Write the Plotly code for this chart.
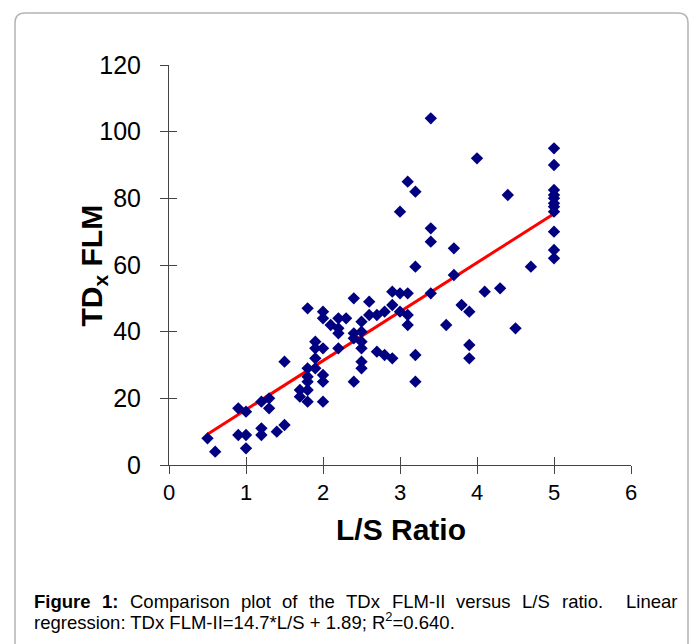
import plotly.graph_objects as go

# ---- data ----
ls_ratio = [0.5, 0.6, 0.9, 0.9, 1.0, 1.0, 1.0, 1.2, 1.2, 1.2, 1.3, 1.3, 1.4, 1.5, 1.5,
            1.7, 1.7, 1.8, 1.8, 1.8, 1.8, 1.8, 1.8, 1.9, 1.9, 1.9, 1.9,
            2.0, 2.0, 2.0, 2.0, 2.0, 2.0, 2.1, 2.2, 2.2, 2.2, 2.2, 2.3,
            2.4, 2.4, 2.4, 2.4, 2.5, 2.5, 2.5, 2.5, 2.5, 2.5, 2.6, 2.6, 2.7, 2.7,
            2.8, 2.8, 2.9, 2.9, 2.9, 3.0, 3.0, 3.0, 3.1, 3.1, 3.1, 3.1,
            3.2, 3.2, 3.2, 3.2, 3.4, 3.4, 3.4, 3.4, 3.6, 3.7, 3.7, 3.8,
            3.9, 3.9, 3.9, 4.0, 4.1, 4.3, 4.4, 4.5, 4.7,
            5.0, 5.0, 5.0, 5.0, 5.0, 5.0, 5.0, 5.0, 5.0, 5.0, 5.0]
tdx_flm = [8, 4, 17, 9, 16, 9, 5, 19, 11, 9, 20, 17, 10, 12, 31,
           22.5, 20.5, 47, 29, 26.5, 25, 22.5, 19, 37, 35, 32, 29,
           46, 44, 35, 27, 25, 19, 42, 44, 41, 39.5, 35, 44,
           50, 39.5, 38, 25, 43, 40, 37, 35, 31, 29, 49, 45, 45, 34,
           46, 33, 52, 48, 32, 76, 51.5, 46, 85, 51.5, 45, 42,
           82, 59.5, 33, 25, 104, 71, 67, 51.5, 42, 65, 57, 48,
           46, 36, 32, 92, 52, 53, 81, 41, 59.5,
           95, 90, 82.5, 81, 80, 78.5, 77.5, 76, 70, 64.5, 62]

slope = 14.7
intercept = 1.89

x_ticks = [0, 1, 2, 3, 4, 5, 6]
y_ticks = [0, 20, 40, 60, 80, 100, 120]

# caption line 1 words (bold flag, text, spaces that follow)
caption_words = [(True, "Figure", 1), (True, "1:", 1), (False, "Comparison", 1),
                 (False, "plot", 1), (False, "of", 1), (False, "the", 1),
                 (False, "TDx", 1), (False, "FLM-II", 1), (False, "versus", 1),
                 (False, "L/S", 1), (False, "ratio.", 2), (False, "Linear", 0)]
caption_line2 = "regression: TDx FLM-II=14.7*L/S + 1.89; R<sup>2</sup>=0.640."

# ---- geometry helpers (screen pixel -> paper); page body has an 8px margin ----
OFF = 8
W, H = 697, 644
L, R, T, B = 169 - OFF, 631 - OFF, 65 - OFF, 465 - OFF


def pxx(p):
    return (p - OFF - L) / (R - L)


def pxy(p):
    return (B - (p - OFF)) / (B - T)


FONT = "Arial, Liberation Sans, sans-serif"
CAP_SIZE = 18.5

# Arial advance widths (1/1000 em) used to justify caption line 1
REG_W = {"F": 611, "i": 222, "g": 556, "u": 556, "r": 333, "e": 556, "1": 556,
         ":": 278, "C": 722, "o": 556, "m": 833, "p": 556, "a": 556, "s": 500,
         "n": 556, "l": 222, "t": 278, "h": 556, "T": 611, "D": 722, "x": 500,
         "L": 556, "M": 833, "-": 333, "I": 278, "v": 500, "/": 278, "S": 667,
         ".": 278, "f": 278}
BOLD_W = {"F": 611, "i": 278, "g": 611, "u": 611, "r": 389, "e": 556, "1": 556,
          ":": 333}


def text_w(s, bold):
    table = BOLD_W if bold else REG_W
    return sum(table.get(c, 556) for c in s) / 1000 * CAP_SIZE


fig = go.Figure()

fit_x = [min(ls_ratio), max(ls_ratio)]
fit_y = [slope * v + intercept for v in fit_x]

fig.add_trace(go.Scatter(x=fit_x, y=fit_y, mode="lines",
                         line=dict(color="#ff0000", width=3),
                         hoverinfo="skip", showlegend=False))
fig.add_trace(go.Scatter(x=ls_ratio, y=tdx_flm, mode="markers",
                         marker=dict(symbol="diamond", size=9.5, color="#000080"),
                         cliponaxis=False, showlegend=False))
# invisible trace to activate overlay axes (inside ticks -> crossing ticks)
fig.add_trace(go.Scatter(x=[None], y=[None], xaxis="x2", yaxis="y2",
                         showlegend=False, hoverinfo="skip"))

axis_common = dict(showgrid=False, zeroline=False, showline=True,
                   linecolor="#444444", linewidth=1, tickcolor="#444444",
                   tickwidth=1, ticklen=8)

fig.update_layout(
    width=W, height=H,
    margin=dict(l=L, r=W - R, t=T, b=H - B),
    paper_bgcolor="white", plot_bgcolor="white",
    font=dict(family=FONT, color="black"),
    xaxis=dict(range=[0, 6], tickvals=x_ticks, ticks="outside",
               tickfont=dict(size=22, family=FONT, color="black"),
               **axis_common),
    yaxis=dict(range=[0, 120], tickvals=y_ticks, ticks="outside",
               ticklabelstandoff=14,
               tickfont=dict(size=25, family=FONT, color="black"),
               **axis_common),
    xaxis2=dict(range=[0, 6], tickvals=x_ticks, ticks="inside",
                overlaying="x", anchor="y2", showticklabels=False,
                **axis_common),
    yaxis2=dict(range=[0, 120], tickvals=y_ticks, ticks="inside",
                overlaying="y", anchor="x2", showticklabels=False,
                **axis_common),
)

# axis titles
fig.add_annotation(text="<b>L/S Ratio</b>", xref="paper", yref="paper",
                   x=pxx(401), y=pxy(548), showarrow=False,
                   font=dict(size=30, family=FONT, color="black"))
fig.add_annotation(text="<b>TD<sub>x</sub> FLM</b>", xref="paper", yref="paper",
                   x=pxx(72), y=pxy(266), showarrow=False, textangle=-90,
                   font=dict(size=30, family=FONT, color="black"))

# caption line 1, justified between x=32 and x=675
left_edge, right_edge = 32, 675
total_w = sum(text_w(t, b) for b, t, _ in caption_words)
n_spaces = sum(n for _, _, n in caption_words)
gap = (right_edge - left_edge - total_w) / n_spaces
cx = left_edge
for bold, wtxt, nsp in caption_words:
    fig.add_annotation(text=f"<b>{wtxt}</b>" if bold else wtxt,
                       xref="paper", yref="paper",
                       x=pxx(cx), y=pxy(601), xanchor="left", yanchor="middle",
                       showarrow=False,
                       font=dict(size=CAP_SIZE, family=FONT, color="black"))
    cx += text_w(wtxt, bold) + gap * nsp
fig.add_annotation(text=caption_line2,
                   xref="paper", yref="paper", x=pxx(32), y=pxy(621),
                   xanchor="left", yanchor="middle", showarrow=False,
                   font=dict(size=CAP_SIZE, family=FONT, color="black"))

# rounded frame
x0, x1, y0, y1, r = 15, 688, 13, 720, 10
path = (f"M {pxx(x0 + r)},{pxy(y0)} L {pxx(x1 - r)},{pxy(y0)} "
        f"Q {pxx(x1)},{pxy(y0)} {pxx(x1)},{pxy(y0 + r)} "
        f"L {pxx(x1)},{pxy(y1)} L {pxx(x0)},{pxy(y1)} "
        f"L {pxx(x0)},{pxy(y0 + r)} Q {pxx(x0)},{pxy(y0)} {pxx(x0 + r)},{pxy(y0)} Z")
fig.add_shape(type="path", path=path, xref="paper", yref="paper",
              line=dict(color="#b4b4b4", width=1.5), layer="below")

fig.write_html("out.html")
